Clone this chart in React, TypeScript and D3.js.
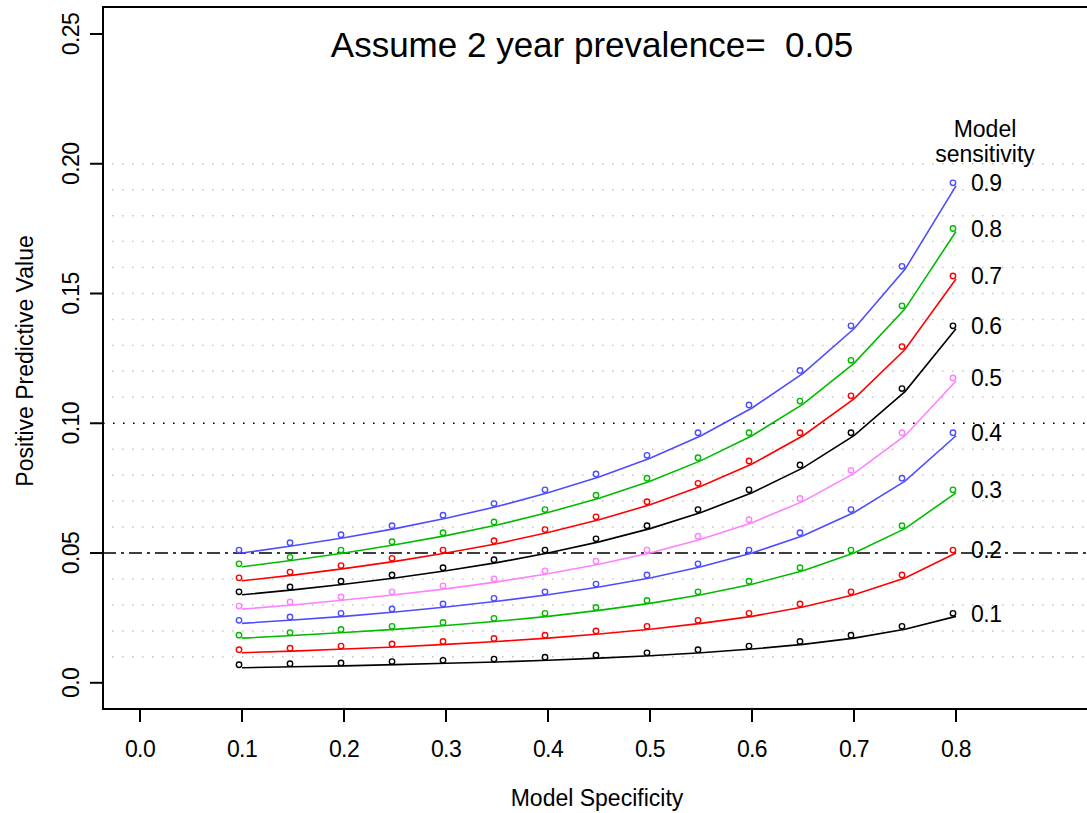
import React, { useEffect, useRef } from 'react';
import * as d3 from 'd3';

// specificity values on the x axis (one point every 0.05)
const specificity = [0.1, 0.15, 0.2, 0.25, 0.3, 0.35, 0.4, 0.45, 0.5, 0.55, 0.6, 0.65, 0.7, 0.75, 0.8];

// positive predictive value per sensitivity level
const ppvSens01 = [0.0058, 0.0062, 0.0065, 0.007, 0.0075, 0.008, 0.0087, 0.0095, 0.0104, 0.0116, 0.013, 0.0148, 0.0172, 0.0206, 0.0256];
const ppvSens02 = [0.0116, 0.0122, 0.013, 0.0138, 0.0148, 0.0159, 0.0172, 0.0188, 0.0206, 0.0229, 0.0256, 0.0292, 0.0339, 0.0404, 0.05];
const ppvSens03 = [0.0172, 0.0182, 0.0194, 0.0206, 0.0221, 0.0237, 0.0256, 0.0279, 0.0306, 0.0339, 0.038, 0.0432, 0.05, 0.0594, 0.0732];
const ppvSens04 = [0.0229, 0.0242, 0.0256, 0.0273, 0.0292, 0.0314, 0.0339, 0.0369, 0.0404, 0.0447, 0.05, 0.0567, 0.0656, 0.0777, 0.0952];
const ppvSens05 = [0.0284, 0.03, 0.0319, 0.0339, 0.0362, 0.0389, 0.042, 0.0457, 0.05, 0.0553, 0.0617, 0.0699, 0.0807, 0.0952, 0.1163];
const ppvSens06 = [0.0339, 0.0358, 0.038, 0.0404, 0.0432, 0.0463, 0.05, 0.0543, 0.0594, 0.0656, 0.0732, 0.0828, 0.0952, 0.1122, 0.1364];
const ppvSens07 = [0.0393, 0.0415, 0.044, 0.0468, 0.05, 0.0536, 0.0579, 0.0628, 0.0686, 0.0757, 0.0843, 0.0952, 0.1094, 0.1284, 0.1556];
const ppvSens08 = [0.0447, 0.0472, 0.05, 0.0532, 0.0567, 0.0608, 0.0656, 0.0711, 0.0777, 0.0856, 0.0952, 0.1074, 0.1231, 0.1441, 0.1739];
const ppvSens09 = [0.05, 0.0528, 0.0559, 0.0594, 0.0634, 0.0679, 0.0732, 0.0793, 0.0865, 0.0952, 0.1059, 0.1192, 0.1364, 0.1593, 0.1915];

const sensitivityLabels = ['0.1', '0.2', '0.3', '0.4', '0.5', '0.6', '0.7', '0.8', '0.9'];
const seriesColors = ['#000000', '#ff0000', '#00bb00', '#4d4dff', '#ff80ff', '#000000', '#ff0000', '#00bb00', '#4d4dff'];

const xTicks = [0, 0.1, 0.2, 0.3, 0.4, 0.5, 0.6, 0.7, 0.8];
const xTickLabels = ['0.0', '0.1', '0.2', '0.3', '0.4', '0.5', '0.6', '0.7', '0.8'];
const yTicks = [0, 0.05, 0.1, 0.15, 0.2, 0.25];
const yTickLabels = ['0.0', '0.05', '0.10', '0.15', '0.20', '0.25'];
const gridValues = [0.01, 0.02, 0.03, 0.04, 0.06, 0.07, 0.08, 0.09, 0.11, 0.12, 0.13, 0.14, 0.15, 0.16, 0.17, 0.18, 0.19, 0.2];

const FONT = '"Liberation Sans", Arial, sans-serif';

const App = () => {
  const svgRef = useRef<SVGSVGElement>(null);

  useEffect(() => {
    const width = 1087;
    const height = 813;
    const svg = d3.select(svgRef.current).attr('width', width).attr('height', height);
    svg.selectAll('*').remove();

    const left = 103, top = 7, bottom = 709, right = 1100;

    // 0.1 of specificity ~ 102px, 0.05 of ppv ~ 130px
    const x = d3.scaleLinear().domain([-0.0363, 0.9412]).range([left, right]);
    const y = d3.scaleLinear().domain([-0.0101, 0.2604]).range([bottom, top]);

    const series = [ppvSens01, ppvSens02, ppvSens03, ppvSens04, ppvSens05, ppvSens06, ppvSens07, ppvSens08, ppvSens09];

    // light dotted grid
    svg.append('g')
      .selectAll('line')
      .data(gridValues)
      .enter()
      .append('line')
      .attr('x1', left + 9)
      .attr('x2', width)
      .attr('y1', d => y(d))
      .attr('y2', d => y(d))
      .attr('stroke', '#c4c4c4')
      .attr('stroke-width', 1.5)
      .attr('stroke-dasharray', '1.5 8.5');

    // reference lines
    svg.append('line')
      .attr('x1', left).attr('x2', width)
      .attr('y1', y(0.1)).attr('y2', y(0.1))
      .attr('stroke', '#000')
      .attr('stroke-width', 1.6)
      .attr('stroke-dasharray', '1.6 8.4');

    svg.append('line')
      .attr('x1', left).attr('x2', width)
      .attr('y1', y(0.05)).attr('y2', y(0.05))
      .attr('stroke', '#000')
      .attr('stroke-width', 1.6)
      .attr('stroke-dasharray', '13 5 3 5');

    // curves
    const line = d3.line<number>()
      .x((_, i) => x(specificity[i]))
      .y(d => y(d));

    svg.append('g')
      .selectAll('path')
      .data(series)
      .enter()
      .append('path')
      .attr('d', d => line(d))
      .attr('fill', 'none')
      .attr('stroke', (_, i) => seriesColors[i])
      .attr('stroke-width', 1.6);

    // points (drawn slightly up-left of the line, as in the original)
    const pts = svg.append('g').attr('transform', 'translate(-3,-3)');
    series.forEach((vals, si) => {
      pts.selectAll(`circle.s${si}`)
        .data(vals)
        .enter()
        .append('circle')
        .attr('class', `s${si}`)
        .attr('cx', (_, i) => x(specificity[i]))
        .attr('cy', d => y(d))
        .attr('r', 2.7)
        .attr('fill', 'none')
        .attr('stroke', seriesColors[si])
        .attr('stroke-width', 1.4);
    });

    // right-hand sensitivity labels
    svg.append('g')
      .selectAll('text')
      .data(series)
      .enter()
      .append('text')
      .attr('x', x(0.8) + 15)
      .attr('y', d => y(d[d.length - 1]) - 3)
      .attr('dy', '0.36em')
      .attr('font-family', FONT)
      .attr('font-size', 23)
      .attr('letter-spacing', -0.5)
      .text((_, i) => sensitivityLabels[i]);

    const legendTitle = svg.append('text')
      .attr('font-family', FONT)
      .attr('font-size', 23)
      .attr('text-anchor', 'middle');
    legendTitle.append('tspan').attr('x', 985).attr('y', 137).text('Model');
    legendTitle.append('tspan').attr('x', 985).attr('y', 162).text('sensitivity');

    // frame
    svg.append('path')
      .attr('d', `M${right},${top}H${left}V${bottom}H${right}`)
      .attr('fill', 'none')
      .attr('stroke', '#000')
      .attr('stroke-width', 2);

    // x axis ticks
    const xAxis = svg.append('g');
    xAxis.selectAll('line')
      .data(xTicks)
      .enter()
      .append('line')
      .attr('x1', d => x(d)).attr('x2', d => x(d))
      .attr('y1', bottom).attr('y2', bottom + 13)
      .attr('stroke', '#000')
      .attr('stroke-width', 2);
    xAxis.selectAll('text')
      .data(xTicks)
      .enter()
      .append('text')
      .attr('x', d => x(d))
      .attr('y', 757)
      .attr('text-anchor', 'middle')
      .attr('font-family', FONT)
      .attr('font-size', 23)
      .attr('letter-spacing', -0.6)
      .text((_, i) => xTickLabels[i]);

    // y axis ticks
    const yAxis = svg.append('g');
    yAxis.selectAll('line')
      .data(yTicks)
      .enter()
      .append('line')
      .attr('x1', left - 13).attr('x2', left)
      .attr('y1', d => y(d)).attr('y2', d => y(d))
      .attr('stroke', '#000')
      .attr('stroke-width', 2);
    yAxis.selectAll('text')
      .data(yTicks)
      .enter()
      .append('text')
      .attr('transform', d => `translate(79,${y(d)}) rotate(-90)`)
      .attr('text-anchor', 'middle')
      .attr('font-family', FONT)
      .attr('font-size', 23)
      .attr('letter-spacing', -0.6)
      .text((_, i) => yTickLabels[i]);

    // titles
    svg.append('text')
      .attr('x', 592)
      .attr('y', 57)
      .attr('text-anchor', 'middle')
      .attr('font-family', FONT)
      .attr('font-size', 35)
      .style('white-space', 'pre')
      .text('Assume 2 year prevalence=  0.05');

    svg.append('text')
      .attr('x', 597)
      .attr('y', 806)
      .attr('text-anchor', 'middle')
      .attr('font-family', FONT)
      .attr('font-size', 23)
      .text('Model Specificity');

    svg.append('text')
      .attr('transform', 'translate(33,361) rotate(-90)')
      .attr('text-anchor', 'middle')
      .attr('font-family', FONT)
      .attr('font-size', 23)
      .text('Positive Predictive Value');
  }, []);

  return (
    <svg
      ref={svgRef}
      style={{ position: 'absolute', left: 0, top: 0, display: 'block', background: '#fff' }}
    ></svg>
  );
};

export default App;
